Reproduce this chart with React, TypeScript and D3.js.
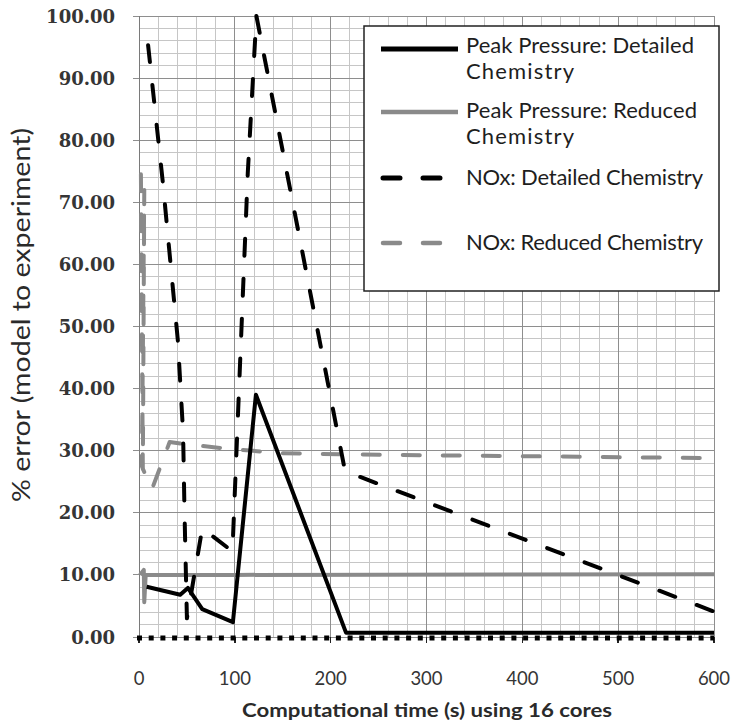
import React from 'react';
import * as d3 from 'd3';

// values
const xTicks = [0, 100, 200, 300, 400, 500, 600];
const yTicks = [0, 10, 20, 30, 40, 50, 60, 70, 80, 90, 100];

const ppDetailedT = [8, 43, 51, 66, 98, 122, 216, 300, 400, 500, 600];
const ppDetailedV = [8.1, 6.8, 7.9, 4.5, 2.4, 39, 0.7, 0.7, 0.7, 0.7, 0.7];

const ppReducedT = [1, 5, 5.5, 7, 100, 600];
const ppReducedV = [10.0, 10.8, 5.6, 10.0, 10.0, 10.1];

const noxDetailedT = [9.5, 25, 40.5, 46, 47.5, 50, 66, 97.5, 113.5, 122.5, 215, 600];
const noxDetailedV = [95.3, 73, 47.8, 33, 20, 3, 17.5, 13.8, 74.7, 100, 26.7, 4.1];

const noxReducedT = [2, 4, 5.5, 3, 7, 13.5, 32, 45, 100, 150, 220, 600];
const noxReducedV = [74.5, 27, 72, 27.5, 26, 23.8, 31.4, 31.1, 30.2, 29.6, 29.4, 28.8];

const legendItems = [
  { lines: ['Peak Pressure: Detailed', 'Chemistry'], widths: [228, 108], color: '#000', dash: null },
  { lines: ['Peak Pressure: Reduced', 'Chemistry'], widths: [231, 108], color: '#8a8a8a', dash: null },
  { lines: ['NOx: Detailed Chemistry'], widths: [237], color: '#000', dash: '17 23' },
  { lines: ['NOx: Reduced Chemistry'], widths: [237], color: '#8a8a8a', dash: '17 23' },
];

const W = 734;
const H = 725;
const plot = { left: 139, right: 714, top: 16, bottom: 637 };

export default function App() {
  const x = d3.scaleLinear().domain([0, 600]).range([plot.left, plot.right]);
  const y = d3.scaleLinear().domain([0, 100]).range([plot.bottom, plot.top]);

  const line = (ts: number[], vs: number[]) =>
    d3.line<number>().x((_, i) => x(ts[i])).y((_, i) => y(vs[i]))(ts) || '';

  const minorX = d3.range(0, 601, 20).filter(v => v % 100 !== 0);
  const minorY = d3.range(0, 101, 2).filter(v => v % 10 !== 0);

  const legendY = [49, 112, 178, 243];
  const textY = [[53, 79], [118, 144], [185], [250]];

  return (
    <svg width={W} height={H} style={{ position: 'absolute', left: 0, top: 0, background: '#fff' }}>
      <rect x={0} y={0} width={W} height={H} fill="#fff" />

      {/* grid */}
      <g shapeRendering="crispEdges">
        {minorX.map(v => (
          <line key={'mx' + v} x1={x(v)} x2={x(v)} y1={plot.top} y2={plot.bottom} stroke="#c6c6c6" />
        ))}
        {minorY.map(v => (
          <line key={'my' + v} x1={plot.left} x2={plot.right} y1={y(v)} y2={y(v)} stroke="#c6c6c6" />
        ))}
        {xTicks.map(v => (
          <line key={'Mx' + v} x1={x(v)} x2={x(v)} y1={plot.top} y2={plot.bottom} stroke="#8e8e8e" />
        ))}
        {yTicks.map(v => (
          <line key={'My' + v} x1={plot.left - 6} x2={plot.right} y1={y(v)} y2={y(v)} stroke="#8e8e8e" />
        ))}
        <line x1={plot.left} x2={plot.left} y1={plot.top} y2={plot.bottom} stroke="#7a7a7a" />
        {xTicks.map(v => (
          <line key={'tx' + v} x1={x(v)} x2={x(v)} y1={plot.bottom} y2={plot.bottom + 6} stroke="#222" strokeWidth={1.5} />
        ))}
      </g>

      {/* zero line, dotted */}
      <line x1={plot.left - 2} x2={plot.right} y1={y(0) + 1} y2={y(0) + 1} stroke="#000" strokeWidth={5} strokeDasharray="5 6.7" />

      {/* series */}
      <g fill="none" strokeLinejoin="round">
        <path d={line(ppReducedT, ppReducedV)} stroke="#8a8a8a" strokeWidth={4} />
        <path d={line(noxReducedT, noxReducedV)} stroke="#8a8a8a" strokeWidth={4} strokeDasharray="17 23" strokeLinecap="round" />
        <path d={line(ppDetailedT, ppDetailedV)} stroke="#000" strokeWidth={4} />
        <path d={line(noxDetailedT, noxDetailedV)} stroke="#000" strokeWidth={4} strokeDasharray="17 23" strokeLinecap="round" />
      </g>

      {/* y tick labels */}
      {yTicks.map(v => (
        <text key={'yl' + v} x={115} y={y(v) + 6.5} textAnchor="end" fontFamily="DejaVu Serif" fontWeight="bold" fontSize={18} fill="#353535">
          {v.toFixed(2)}
        </text>
      ))}

      {/* x tick labels */}
      {xTicks.map(v => (
        <text key={'xl' + v} x={x(v)} y={685} textAnchor="middle" fontFamily="Lato" fontSize={18.5} fill="#353535">
          {v}
        </text>
      ))}

      {/* axis titles */}
      <text x={242} y={717} fontFamily="Lato" fontWeight="bold" fontSize={19.5} fill="#2a2a2a" textLength={370} lengthAdjust="spacingAndGlyphs">
        Computational time (s) using 16 cores
      </text>
      <text transform="translate(30,502) rotate(-90)" fontFamily="Lato" fontSize={25} fill="#2a2a2a" textLength={374} lengthAdjust="spacingAndGlyphs">
        % error (model to experiment)
      </text>

      {/* legend */}
      <rect x={364} y={26} width={355} height={265} fill="#fff" stroke="#222" strokeWidth={1.5} />
      {legendItems.map((it, i) => (
        <g key={'lg' + i}>
          <line x1={381} x2={458} y1={legendY[i]} y2={legendY[i]} stroke={it.color} strokeWidth={it.color === '#000' ? 5 : 4.5}
            strokeDasharray={it.dash || undefined} strokeLinecap={it.dash ? 'round' : 'butt'}
            strokeDashoffset={it.dash ? -2 : 0} />
          {it.lines.map((t, j) => (
            <text key={j} x={466} y={textY[i][j]} fontFamily="Lato" fontSize={22} fill="#1e1e1e" textLength={it.widths[j]} lengthAdjust="spacing">
              {t}
            </text>
          ))}
        </g>
      ))}
    </svg>
  );
}
